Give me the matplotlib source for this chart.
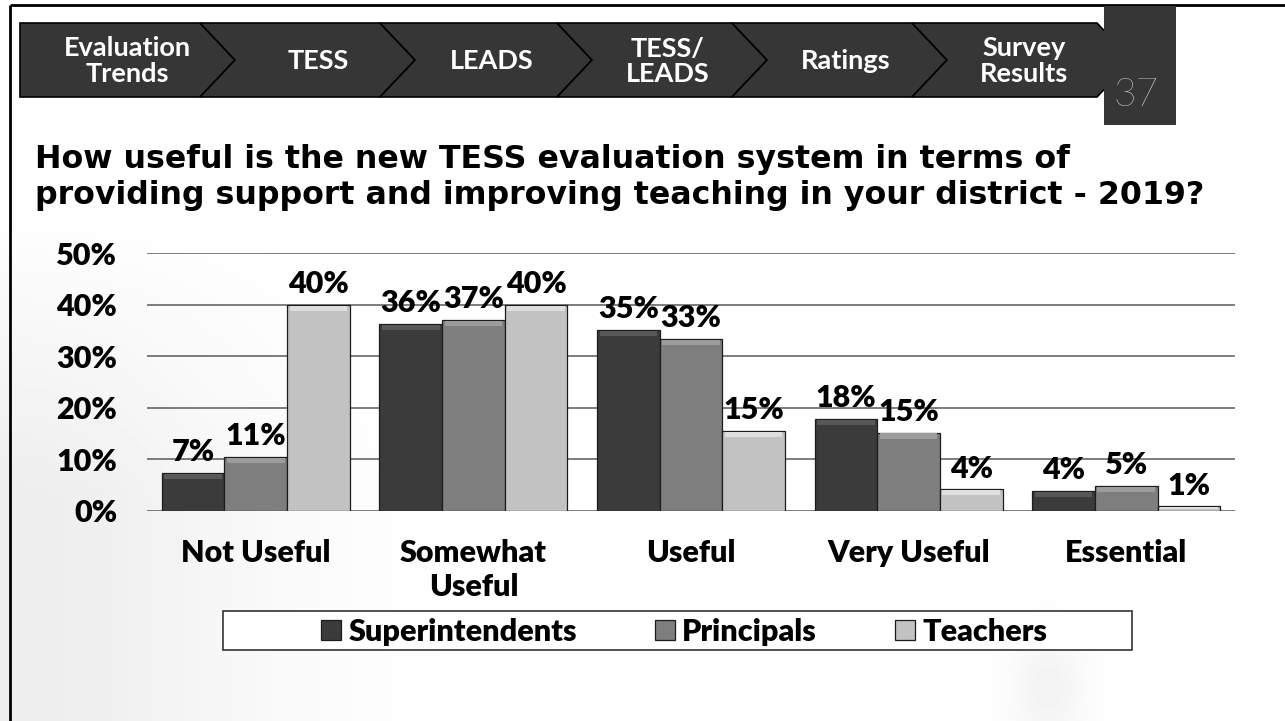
import numpy as np
import matplotlib
matplotlib.use("Agg")
import matplotlib.pyplot as plt
from matplotlib.patches import Polygon, Rectangle

# ---------------- data ----------------
categories = ["Not Useful", "Somewhat\nUseful", "Useful", "Very Useful", "Essential"]
series_names = ["Superintendents", "Principals", "Teachers"]
superintendents = [7.4, 36.2, 35.1, 17.8, 3.9]
principals = [10.5, 37.0, 33.3, 15.2, 4.8]
teachers = [39.9, 39.9, 15.5, 4.2, 0.9]
superintendents_labels = ["7%", "36%", "35%", "18%", "4%"]
principals_labels = ["11%", "37%", "33%", "15%", "5%"]
teachers_labels = ["40%", "40%", "15%", "4%", "1%"]
y_ticks = [0, 10, 20, 30, 40, 50]
y_tick_labels = ["0%", "10%", "20%", "30%", "40%", "50%"]
nav_labels = ["Evaluation\nTrends", "TESS", "LEADS", "TESS/\nLEADS", "Ratings", "Survey\nResults"]
page_number = "37"
title_lines = ["How useful is the new TESS evaluation system in terms of",
               "providing support and improving teaching in your district - 2019?"]

# ---------------- styling ----------------
FONT = "Lato"
WEIGHT = "heavy"
bar_colors = ["#3b3b3b", "#7e7e7e", "#c2c2c2"]
band_colors = ["#585858", "#9c9c9c", "#dedede"]
W, H = 1285, 721

fig = plt.figure(figsize=(W / 100, H / 100), dpi=100)
fig.patch.set_facecolor("white")

bg = fig.add_axes([0, 0, 1, 1], zorder=0)
bg.set_xlim(0, W)
bg.set_ylim(H, 0)
bg.axis("off")

# subtle background shading
gx, gy = np.meshgrid(np.linspace(0, W, 257), np.linspace(0, H, 145))
shade = 1.0 - 0.07 * np.exp(-((gx - 0) / 260.0) ** 2) * np.clip((gy - 200) / 300.0, 0, 1)
shade -= 0.05 * np.exp(-(((gx - 1050) / 40.0) ** 2 + ((gy - 690) / 60.0) ** 2))
bg.imshow(shade, cmap="gray", vmin=0, vmax=1, extent=(0, W, H, 0),
          aspect="auto", interpolation="bilinear", zorder=0)

# slide frame
bg.plot([10, 10], [5, H], color="black", lw=2, solid_capstyle="butt", zorder=1)
bg.plot([10, W], [5, 5], color="black", lw=2, solid_capstyle="butt", zorder=1)

# nav chevrons
tops = [20, 200, 380, 557, 732, 912, 1097]
tip = 35
y0, y1 = 23, 97
ym = (y0 + y1) / 2
for i in range(6):
    L, R = tops[i], tops[i + 1]
    pts = [(L, y0), (R, y0), (R + tip, ym), (R, y1), (L, y1)]
    if i > 0:
        pts.append((L + tip, ym))
    bg.add_patch(Polygon(pts, closed=True, fc="#363636", ec="black", lw=1.2, zorder=2))
nav_centers = [127, 318, 492, 668, 846, 1024]
for cx, lab in zip(nav_centers, nav_labels):
    bg.text(cx, ym + 1, lab, ha="center", va="center", color="white",
            fontsize=19.5, fontweight="bold", family=FONT, linespacing=1.05, zorder=3)

# page number box
bg.add_patch(Rectangle((1104, 6), 72, 119, fc="#363636", ec="none", zorder=2))
bg.text(1136, 106, page_number, ha="center", va="baseline", color="white",
        fontsize=28, fontweight="light", family=FONT, zorder=3)

# title
bg.text(35, 168, title_lines[0], ha="left", va="baseline", fontsize=22.8,
        fontweight="bold", family="DejaVu Sans", color="black", zorder=3)
bg.text(35, 204, title_lines[1], ha="left", va="baseline", fontsize=22.8,
        fontweight="bold", family="DejaVu Sans", color="black", zorder=3)

# ---------------- chart ----------------
ax_left, ax_right, ax_top, ax_bot = 147, 1235, 253, 511
ax = fig.add_axes([ax_left / W, (H - ax_bot) / H, (ax_right - ax_left) / W,
                   (ax_bot - ax_top) / H], zorder=1)
ax.patch.set_alpha(0)

x = np.arange(len(categories))
bw = 0.288
handles = []
series = [superintendents, principals, teachers]
series_labels = [superintendents_labels, principals_labels, teachers_labels]
for j, (vals, labs) in enumerate(zip(series, series_labels)):
    xpos = x + (j - 1) * bw
    b = ax.bar(xpos, vals, bw, color=bar_colors[j], edgecolor="#1c1c1c",
               lw=0.9, zorder=3, label=series_names[j])
    handles.append(b)
    vals_arr = np.array(vals)
    band = np.minimum(1.0, vals_arr * 0.5)
    ax.bar(xpos, band, bw * 0.92, bottom=vals_arr - band * 1.15,
           color=band_colors[j], edgecolor="none", zorder=4)
    for xp, v, lab in zip(xpos, vals, labs):
        ax.annotate(lab, (xp, v), xytext=(0, 8.5), textcoords="offset points",
                    ha="center", va="baseline", fontsize=22, fontweight=WEIGHT,
                    family=FONT, color="black", zorder=5)

ax.set_xlim(-0.5, len(categories) - 0.5)
ax.set_ylim(0, 50)
ax.set_yticks(y_ticks)
ax.set_yticklabels(y_tick_labels, fontsize=22, fontweight=WEIGHT, family=FONT)
ax.set_xticks(x)
ax.set_xticklabels(categories, fontsize=22, fontweight=WEIGHT, family=FONT,
                   linespacing=1.25)
ax.tick_params(axis="y", length=0, pad=21.5)
ax.tick_params(axis="x", length=0, pad=20)
ax.yaxis.grid(True, color="#5a5a5a", lw=1.1, zorder=0)
ax.set_axisbelow(True)
for s in ax.spines.values():
    s.set_visible(False)

# legend
leg = fig.legend(handles, series_names, loc="center",
                 bbox_to_anchor=(684 / W, 1 - 632 / H), ncol=3, frameon=False,
                 prop={"family": FONT, "weight": WEIGHT, "size": 22},
                 handlelength=0.65, handleheight=0.65, handletextpad=0.25,
                 columnspacing=2.55, borderpad=0)
bg.add_patch(Rectangle((223, 611), 909, 39, fc="white", ec="#333333", lw=1.2, zorder=2))

fig.savefig("out.png", dpi=100, facecolor="white")
